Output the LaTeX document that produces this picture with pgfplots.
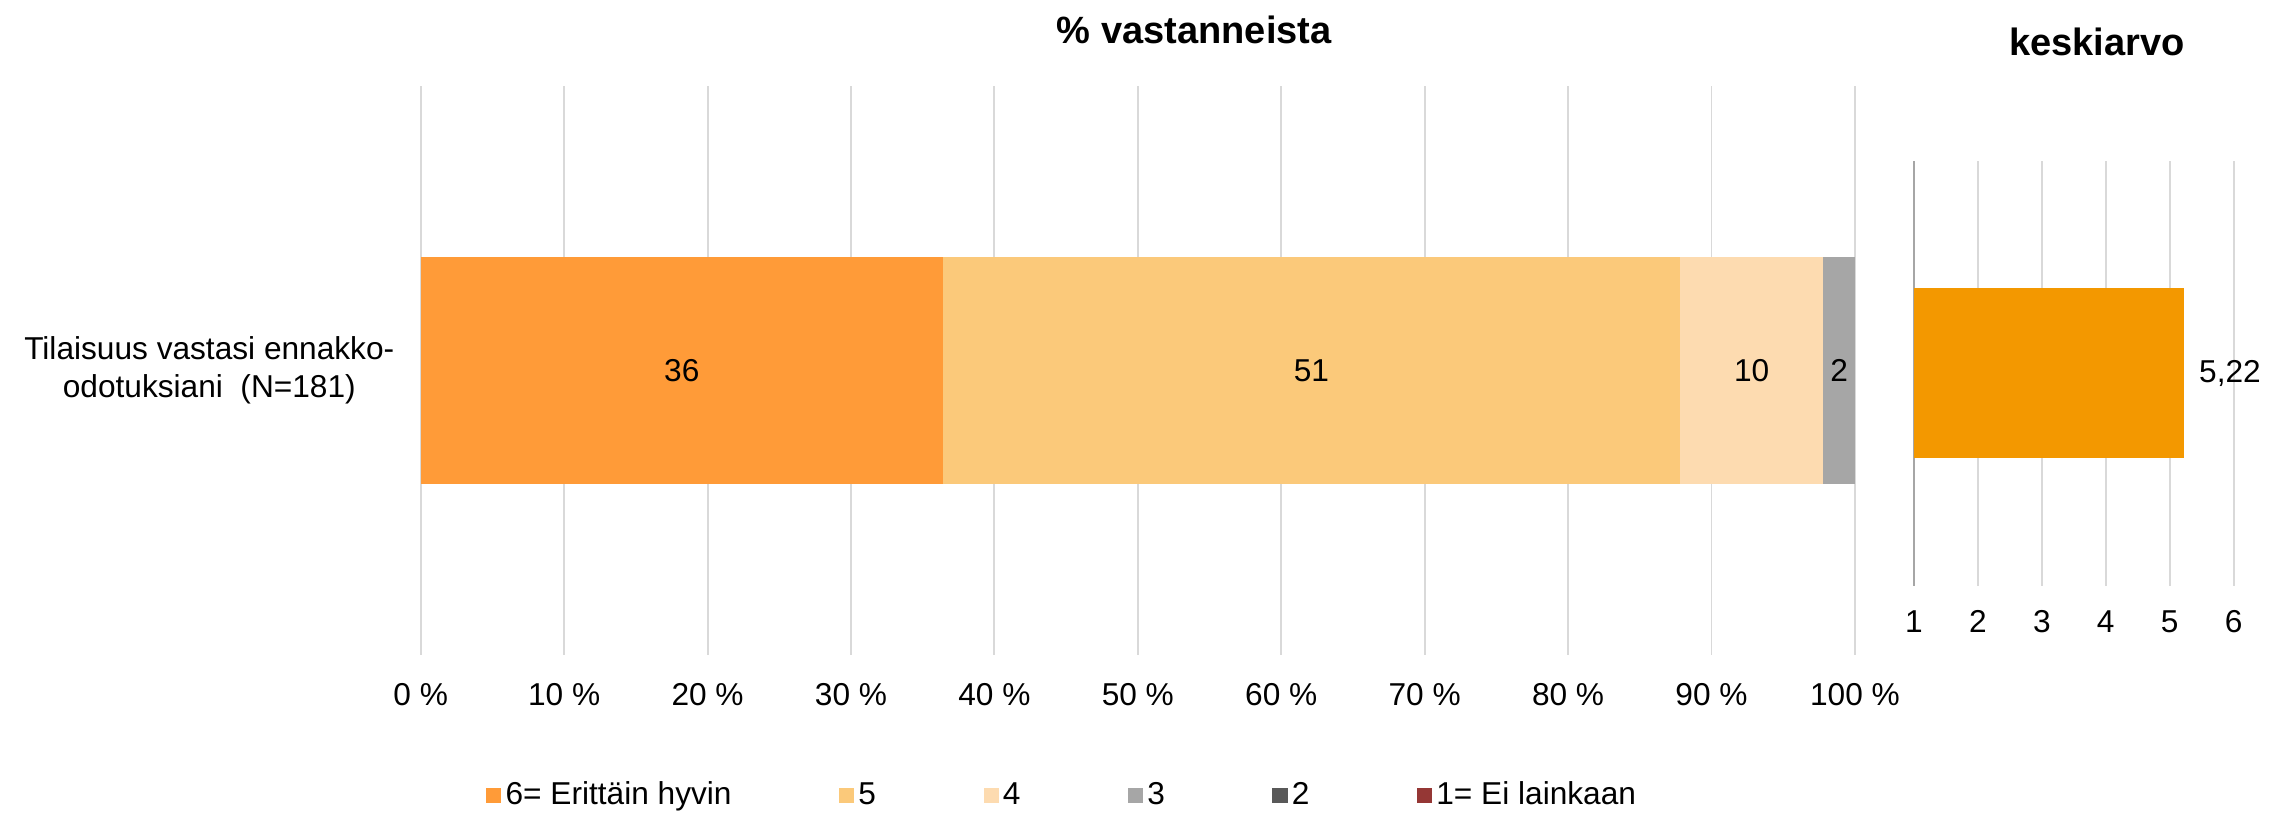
\documentclass[border=0pt]{standalone}
\usepackage{pgfplots}
\pgfplotsset{compat=1.18}
\usepackage{fontspec}
\setmainfont{Liberation Sans}

\definecolor{c6}{HTML}{FF9B38}
\definecolor{c5}{HTML}{FBC97A}
\definecolor{c4}{HTML}{FDDBB0}
\definecolor{c3}{HTML}{A6A6A6}
\definecolor{c2}{HTML}{595959}
\definecolor{c1}{HTML}{953735}
\definecolor{avg}{HTML}{F39800}
\definecolor{gridc}{HTML}{D9D9D9}
\definecolor{axisc}{HTML}{A6A6A6}

% 1 px of the reference = 0.36pt
\newcommand\chartfont{\fontsize{11.4}{13.5}\selectfont}
\pgfplotsset{
  mainbox/.style={
    at={(151.56pt,57.24pt)}, anchor=south west,
    scale only axis, width=516.6pt, height=204.84pt,
    xmin=0, xmax=100, ymin=-1, ymax=1,
  },
}

\begin{document}
\begin{tikzpicture}
\path (0,0) rectangle (817.2pt,293.04pt);

\begin{axis}[
  mainbox,
  xbar stacked, bar width=0.8,
  xtick={0,10,...,100},
  xticklabels={0 \%,10 \%,20 \%,30 \%,40 \%,50 \%,60 \%,70 \%,80 \%,90 \%,100 \%},
  ytick={0},
  yticklabels={{Tilaisuus vastasi ennakko-\\odotuksiani\ \ (N=181)}},
  xmajorgrids, grid style={draw=gridc, line width=0.7pt},
  axis line style={draw=none}, major tick length=0pt,
  tick label style={font=\chartfont},
  x tick label style={anchor=base, yshift=-18.3pt},
  y tick label style={align=center, anchor=east, xshift=-6pt},
  legend columns=6,
  legend style={at={(0.0452,-0.2478)}, anchor=west, draw=none, inner sep=0pt,
    font=\chartfont,
    nodes={inner sep=1.5pt},
    /tikz/every even column/.append style={column sep=37.2pt}},
  legend image code/.code={\fill[#1] (0pt,-2.75pt) rectangle (5.5pt,2.75pt);},
]
\addplot[fill=c6, draw=none] coordinates {(36.4,0)};
\addplot[fill=c5, draw=none] coordinates {(51.4,0)};
\addplot[fill=c4, draw=none] coordinates {(10.0,0)};
\addplot[fill=c3, draw=none] coordinates {(2.2,0)};
\addplot[fill=c2, draw=none] coordinates {(0,0)};
\addplot[fill=c1, draw=none] coordinates {(0,0)};
\legend{6= Erittäin hyvin,5,4,3,2,1= Ei lainkaan}
\end{axis}

% data labels, at the middle of each segment
\begin{axis}[
  mainbox, hide axis,
  nodes near coords, point meta=explicit symbolic,
  every node near coord/.append style={anchor=center, font=\chartfont},
]
\addplot[draw=none, mark=none] coordinates {(18.2,0) [36] (62.1,0) [51] (92.8,0) [10] (98.9,0) [2]};
\end{axis}

\begin{axis}[
  at={(689.4pt,82.08pt)}, anchor=south west,
  scale only axis, width=115.2pt, height=153pt,
  xbar, bar width=0.8,
  xmin=1, xmax=6, ymin=-1, ymax=1,
  xtick={2,...,6}, xticklabels={2,3,4,5,6},
  extra x ticks={1}, extra x tick labels={1},
  extra x tick style={grid style={draw=axisc, line width=0.9pt}},
  ytick=\empty,
  xmajorgrids, grid style={draw=gridc, line width=0.7pt},
  axis line style={draw=none}, major tick length=0pt,
  tick label style={font=\chartfont},
  x tick label style={anchor=base, yshift=-17pt},
  nodes near coords, point meta=explicit symbolic,
  every node near coord/.append style={anchor=west, xshift=2pt, font=\chartfont},
]
\addplot[fill=avg, draw=none] coordinates {(5.22,0) [5,22]};
\end{axis}

\node[font=\bfseries\fontsize{13.7}{16}\selectfont] at (430.2pt,282.24pt) {\% vastanneista};
\node[font=\bfseries\fontsize{13.7}{16}\selectfont] at (755.28pt,277.92pt) {keskiarvo};
\end{tikzpicture}
\end{document}
